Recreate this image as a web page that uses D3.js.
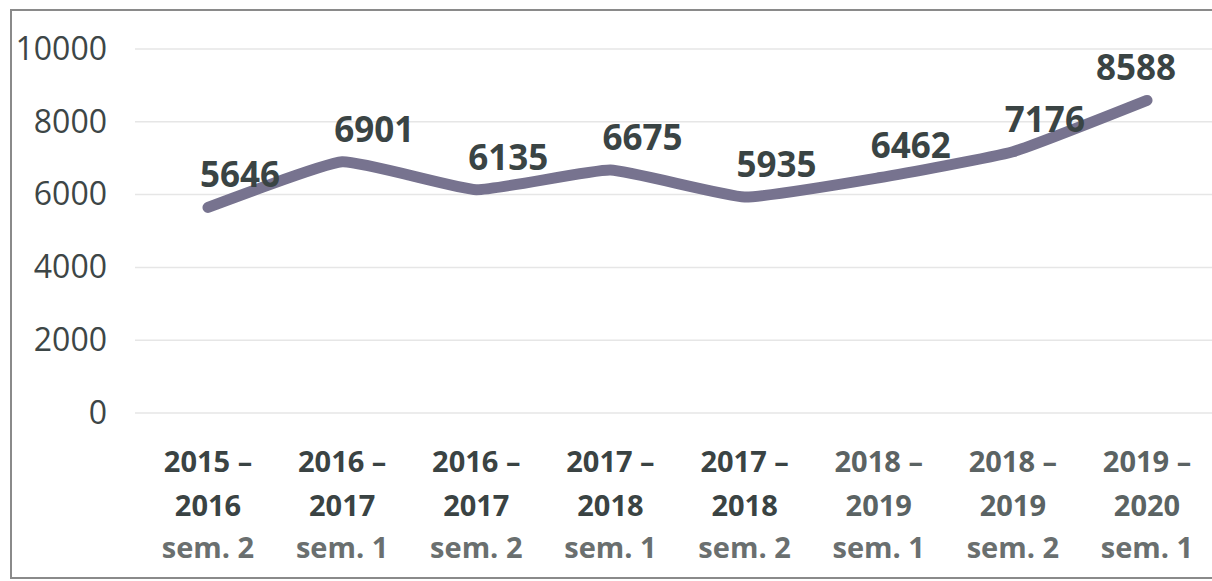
<!DOCTYPE html>
<html>
<head>
<meta charset="utf-8">
<script src="https://cdn.jsdelivr.net/npm/d3@7"></script>
<style>
  body { margin: 0; background: #fff; }
  svg { display: block; font-family: "Open Sans", sans-serif; }
</style>
</head>
<body>
<div id="chart"></div>
<script>
// chart data
var periods = ["2015 – 2016 sem. 2", "2016 – 2017 sem. 1", "2016 – 2017 sem. 2", "2017 – 2018 sem. 1",
               "2017 – 2018 sem. 2", "2018 – 2019 sem. 1", "2018 – 2019 sem. 2", "2019 – 2020 sem. 1"];
var yearLines = ["2015 –", "2016 –", "2016 –", "2017 –", "2017 –", "2018 –", "2018 –", "2019 –"];
var yearLines2 = ["2016", "2017", "2017", "2018", "2018", "2019", "2019", "2020"];
var semLines = ["sem. 2", "sem. 1", "sem. 2", "sem. 1", "sem. 2", "sem. 1", "sem. 2", "sem. 1"];
var counts = [5646, 6901, 6135, 6675, 5935, 6462, 7176, 8588];
var yTicks = [0, 2000, 4000, 6000, 8000, 10000];

var width = 1212, height = 581;
var svg = d3.select("#chart").append("svg")
    .attr("width", width)
    .attr("height", height);

// frame
svg.append("rect")
    .attr("x", 11).attr("y", 10)
    .attr("width", 1215).attr("height", 568)
    .attr("fill", "none")
    .attr("stroke", "#8a8a8a")
    .attr("stroke-width", 2);

var x = d3.scalePoint().domain(periods).range([208, 1147]);
var y = d3.scaleLinear().domain([0, 10000]).range([413, 49]);

// gridlines
svg.append("g")
    .selectAll("line")
    .data(yTicks)
    .enter().append("line")
    .attr("x1", 135).attr("x2", width)
    .attr("y1", function(d) { return y(d); })
    .attr("y2", function(d) { return y(d); })
    .attr("stroke", "#e6e6e6")
    .attr("stroke-width", 1.5);

// y axis labels
var yAxis = d3.axisLeft(y).tickValues(yTicks).tickFormat(d3.format("d")).tickSize(0).tickPadding(0);
var yg = svg.append("g")
    .attr("transform", "translate(107,0)")
    .call(yAxis);
yg.select(".domain").remove();
yg.selectAll("text")
    .attr("fill", "#3d4646")
    .style("font-size", "32px")
    .style("font-family", "'Open Sans', sans-serif");

// x axis labels (three lines)
var xg = svg.append("g")
    .selectAll("g")
    .data(periods)
    .enter().append("g")
    .attr("transform", function(d) { return "translate(" + x(d) + ",0)"; });

xg.append("text")
    .attr("y", 472)
    .attr("text-anchor", "middle")
    .style("font-size", "29px").style("font-weight", "bold")
    .attr("fill", function(d, i) { return i < 5 ? "#3a4343" : "#5b6363"; })
    .text(function(d, i) { return yearLines[i]; });
xg.append("text")
    .attr("y", 516)
    .attr("text-anchor", "middle")
    .style("font-size", "29px").style("font-weight", "bold")
    .attr("fill", function(d, i) { return i < 5 ? "#3a4343" : "#5b6363"; })
    .text(function(d, i) { return yearLines2[i]; });
xg.append("text")
    .attr("y", 558)
    .attr("text-anchor", "middle")
    .style("font-size", "29px").style("font-weight", "bold")
    .attr("fill", "#6a6f6f")
    .text(function(d, i) { return semLines[i]; });

// line
var line = d3.line()
    .x(function(d, i) { return x(periods[i]); })
    .y(function(d) { return y(d); })
    .curve(d3.curveCardinal.tension(0.6));

svg.append("path")
    .datum(counts)
    .attr("d", line)
    .attr("fill", "none")
    .attr("stroke", "#77738f")
    .attr("stroke-width", 11)
    .attr("stroke-linecap", "round")
    .attr("stroke-linejoin", "round");

// data labels
svg.append("g")
    .selectAll("text")
    .data(counts)
    .enter().append("text")
    .attr("x", function(d, i) { return x(periods[i]) - 8; })
    .attr("y", function(d) { return y(d) - 20; })
    .style("font-size", "35px").style("font-weight", "bold")
    .attr("fill", "#3a4444")
    .text(function(d) { return d; })
    .each(function() {
        // keep the label inside the frame
        var w = this.getComputedTextLength();
        var lx = +d3.select(this).attr("x");
        if (lx + w > 1176) d3.select(this).attr("x", 1176 - w);
    });
</script>
</body>
</html>
